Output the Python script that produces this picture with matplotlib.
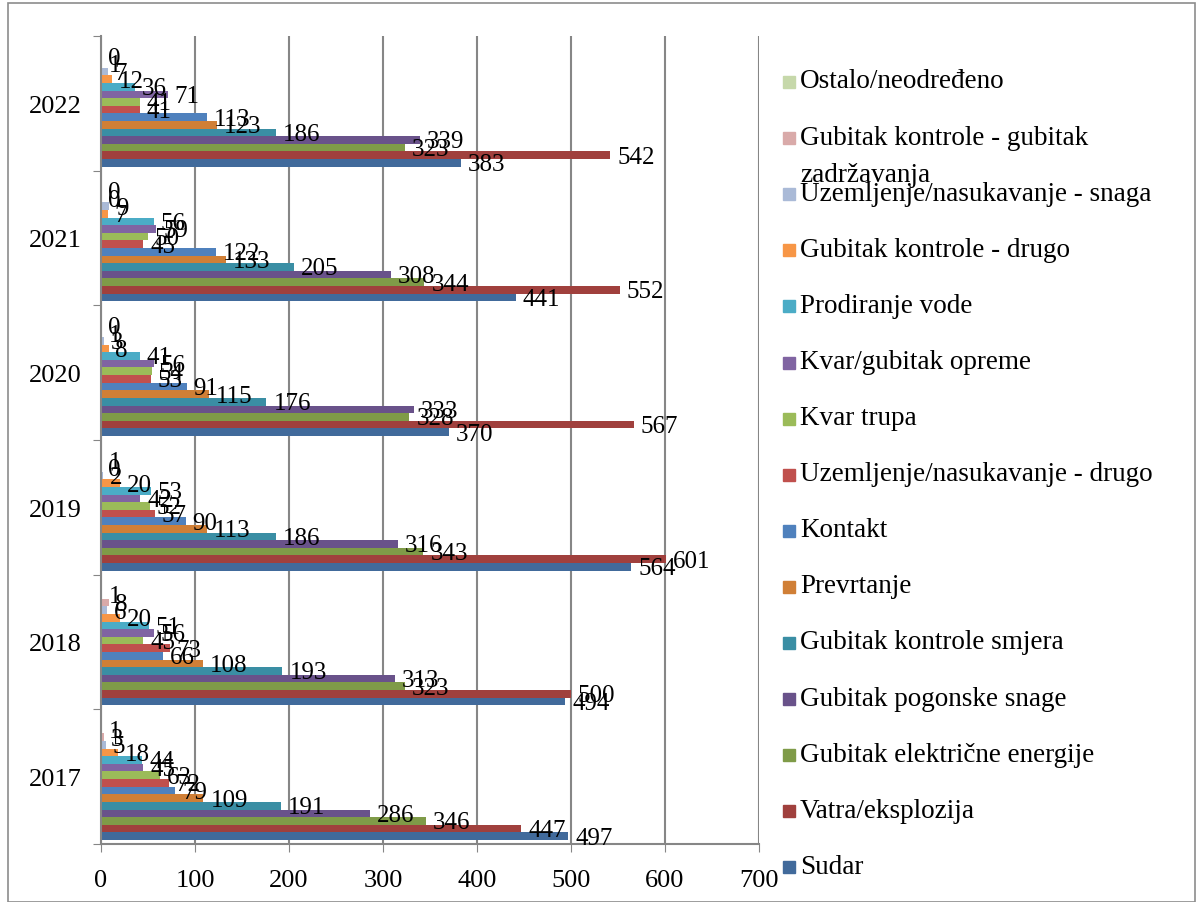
import matplotlib.pyplot as plt
from matplotlib.patches import Rectangle

# Years (bottom to top) and accident categories (series order, bottom bar first)
years = ["2017", "2018", "2019", "2020", "2021", "2022"]

categories = [
    "Sudar",
    "Vatra/eksplozija",
    "Gubitak električne energije",
    "Gubitak pogonske snage",
    "Gubitak kontrole smjera",
    "Prevrtanje",
    "Kontakt",
    "Uzemljenje/nasukavanje - drugo",
    "Kvar trupa",
    "Kvar/gubitak opreme",
    "Prodiranje vode",
    "Gubitak kontrole - drugo",
    "Uzemljenje/nasukavanje - snaga",
    "Gubitak kontrole - gubitak zadržavanja",
    "Ostalo/neodređeno",
]

sudar = [497, 494, 564, 370, 441, 383]
vatra = [447, 500, 601, 567, 552, 542]
elektricna = [346, 323, 343, 328, 344, 323]
pogonska = [286, 313, 316, 333, 308, 339]
smjer = [191, 193, 186, 176, 205, 186]
prevrtanje = [109, 108, 113, 115, 133, 123]
kontakt = [79, 66, 90, 91, 122, 113]
uzem_drugo = [72, 73, 57, 53, 45, 41]
kvar_trupa = [63, 45, 52, 54, 50, 41]
oprema = [45, 56, 42, 56, 59, 71]
voda = [44, 51, 53, 41, 56, 36]
kontrola_drugo = [18, 20, 20, 8, 7, 12]
uzem_snaga = [5, 6, 2, 3, 9, 7]
zadrzavanje = [3, 8, 0, 1, 0, 1]
ostalo = [1, 1, 1, 0, 0, 0]

series = [sudar, vatra, elektricna, pogonska, smjer, prevrtanje, kontakt,
          uzem_drugo, kvar_trupa, oprema, voda, kontrola_drugo, uzem_snaga,
          zadrzavanje, ostalo]

colors = ["#416a9b", "#a0403d", "#7f9b48", "#69528a", "#3a8ea4", "#d07f36",
          "#4f81bd", "#c0504d", "#9bbb59", "#8064a2", "#4bacc6", "#f79646",
          "#aabad7", "#d9aaa9", "#c6d8aa"]

FONT = "Liberation Serif"
W, H = 1202, 903


def main():
    fig = plt.figure(figsize=(W / 100, H / 100), dpi=100)
    fig.patches.append(Rectangle((8 / W, 0), (1195 - 8) / W, 1 - 4 / H,
                                 transform=fig.transFigure, fill=False,
                                 edgecolor="#8c8c8c", linewidth=1.2))

    ax = fig.add_axes([101 / W, 1 - 845 / H, (759 - 101) / W, (845 - 37) / H])

    bar_h = 0.0565
    start = 0.03
    for j, (vals, col) in enumerate(zip(series, colors)):
        ys = [i + start + (j + 0.5) * bar_h for i in range(len(years))]
        ax.barh(ys, vals, height=bar_h, color=col, edgecolor="none")
        for y, v in zip(ys, vals):
            ax.annotate(str(v), (v, y), xytext=(5, -1), textcoords="offset points",
                        va="center", ha="left", fontsize=18, family=FONT)

    ax.set_xlim(0, 700)
    ax.set_ylim(0, len(years))
    ax.set_xticks(range(0, 701, 100))
    ax.set_xticklabels([str(x) for x in range(0, 701, 100)], family=FONT, fontsize=19)
    ax.grid(axis="x", color="#868686", linewidth=1.5)
    ax.set_axisbelow(True)

    # category boundaries as ticks, year labels in the middle
    ax.set_yticks(range(len(years) + 1))
    ax.set_yticklabels([])
    ax.set_yticks([i + 0.5 for i in range(len(years))], minor=True)
    ax.set_yticklabels(years, minor=True, family=FONT, fontsize=19)
    ax.tick_params(axis="y", which="minor", length=0, pad=14)
    ax.tick_params(axis="y", which="major", length=6, color="#868686", direction="out")
    ax.tick_params(axis="x", length=6, color="#868686", direction="out", pad=12)

    for side in ["top", "right"]:
        ax.spines[side].set_visible(False)
    for side in ["left", "bottom"]:
        ax.spines[side].set_color("#868686")
        ax.spines[side].set_linewidth(1.5)

    # legend drawn by hand, top entry is the last series
    for k, (name, col) in enumerate(zip(categories[::-1], colors[::-1])):
        yc = 82 + k * 56.1
        fig.patches.append(Rectangle((783 / W, 1 - (yc + 7) / H), 12 / W, 12 / H,
                                     transform=fig.transFigure, color=col))
        if name == "Gubitak kontrole - gubitak zadržavanja":
            fig.text(800 / W, 1 - yc / H, "Gubitak kontrole - gubitak",
                     va="center", family=FONT, fontsize=19.5)
            fig.text(800 / W, 1 - (yc + 37) / H, "zadržavanja",
                     va="center", family=FONT, fontsize=19.5)
        else:
            fig.text(800 / W, 1 - yc / H, name, va="center", family=FONT, fontsize=19.5)

    fig.savefig("out.png", dpi=100, facecolor="white")


if __name__ == "__main__":
    main()
